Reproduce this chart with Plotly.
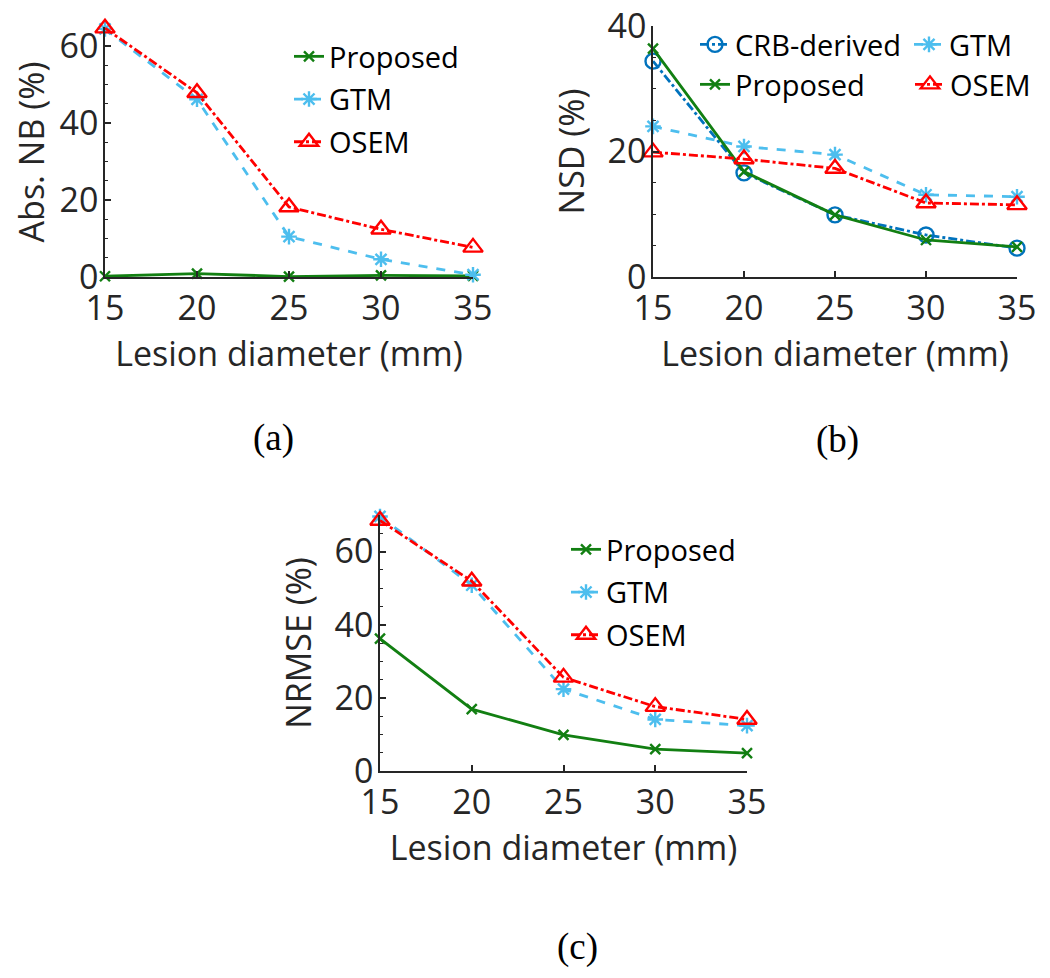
import plotly.graph_objects as go

# the page body has an 8px margin, so the figure is made 16px smaller
# and all positions below are given in window pixels
PAD = 8
W, H = 1050 - 2 * PAD, 978 - 2 * PAD

diam = [15, 20, 25, 30, 35]

# (a) absolute normalized bias (%)
nb_proposed = [0.2, 0.9, 0.1, 0.4, 0.3]
nb_gtm = [64.5, 46.2, 10.5, 4.6, 0.6]
nb_osem = [64.7, 47.9, 18.2, 12.4, 7.7]

# (b) normalized standard deviation (%)
nsd_crb = [34.4, 16.6, 9.9, 6.7, 4.6]
nsd_proposed = [36.4, 16.8, 9.9, 5.9, 4.8]
nsd_gtm = [24.0, 20.8, 19.5, 13.1, 12.8]
nsd_osem = [19.9, 18.8, 17.3, 11.8, 11.5]

# (c) normalized RMSE (%)
nrmse_proposed = [36.2, 16.9, 9.9, 6.0, 4.9]
nrmse_gtm = [69.6, 50.8, 22.4, 14.1, 12.4]
nrmse_osem = [68.5, 51.9, 25.6, 17.6, 14.1]

INK = '#262626'
FONT = 'Open Sans'

styles = {
    'CRB-derived': dict(color='#0072BD', dash='dashdot', symbol='circle-open', size=15),
    'Proposed': dict(color='#127F12', dash='solid', symbol='x-thin-open', size=10),
    'GTM': dict(color='#4DBEEE', dash='dash', symbol='asterisk-open', size=13),
    'OSEM': dict(color='#FF0000', dash='dashdot', symbol='triangle-up-open', size=17),
}


def px(x):
    return (x - PAD) / W


def py(y):
    return 1 - (y - PAD) / H


def line_trace(y, name, xa, ya, legend):
    s = styles[name]
    return go.Scatter(
        x=diam, y=y, name=name, mode='lines+markers',
        xaxis=xa, yaxis=ya, legend=legend, legendgroup=legend + name,
        cliponaxis=False,
        line=dict(color=s['color'], width=2.8, dash=s['dash']),
        marker=dict(symbol=s['symbol'], size=s['size'], color=s['color'],
                    line=dict(color=s['color'], width=2.4)))


fig = go.Figure()

fig.add_trace(line_trace(nb_proposed, 'Proposed', 'x', 'y', 'legend'))
fig.add_trace(line_trace(nb_gtm, 'GTM', 'x', 'y', 'legend'))
fig.add_trace(line_trace(nb_osem, 'OSEM', 'x', 'y', 'legend'))

fig.add_trace(line_trace(nsd_crb, 'CRB-derived', 'x2', 'y2', 'legend2'))
fig.add_trace(line_trace(nsd_gtm, 'GTM', 'x2', 'y2', 'legend3'))
fig.add_trace(line_trace(nsd_proposed, 'Proposed', 'x2', 'y2', 'legend4'))
fig.add_trace(line_trace(nsd_osem, 'OSEM', 'x2', 'y2', 'legend5'))

fig.add_trace(line_trace(nrmse_proposed, 'Proposed', 'x3', 'y3', 'legend6'))
fig.add_trace(line_trace(nrmse_gtm, 'GTM', 'x3', 'y3', 'legend6'))
fig.add_trace(line_trace(nrmse_osem, 'OSEM', 'x3', 'y3', 'legend6'))

tick_font = dict(family=FONT, size=34, color=INK)
axis_common = dict(showgrid=False, zeroline=False, showline=True, linecolor=INK,
                   linewidth=1.6, ticks='inside', ticklen=6, tickwidth=1.6,
                   tickcolor=INK, tickfont=tick_font, mirror=False, automargin=False,
                   ticklabeloverflow='allow')


def xaxis(domain, anchor):
    return dict(axis_common, domain=domain, anchor=anchor, range=[15, 35],
                tickvals=diam, ticklabelstandoff=0,
                title=dict(text='Lesion diameter (mm)', font=tick_font, standoff=12))


def yaxis(domain, anchor, rng, title):
    return dict(axis_common, domain=domain, anchor=anchor, range=rng, dtick=20,
                ticklabelstandoff=-2,
                minor=dict(dtick=5, ticks='inside', ticklen=3, tickwidth=1.2, tickcolor=INK),
                title=dict(text=title, font=tick_font, standoff=13))


legend_common = dict(bgcolor='rgba(0,0,0,0)', font=dict(family=FONT, size=29, color='black'),
                     xanchor='left', yanchor='top', tracegroupgap=2, itemwidth=30)

fig.update_layout(
    width=W, height=H,
    margin=dict(l=0, r=0, t=0, b=0),
    paper_bgcolor='white', plot_bgcolor='white',
    xaxis=xaxis([px(105), px(473)], 'y'),
    yaxis=yaxis([py(277), py(27)], 'x', [0, 65], 'Abs. NB (%)'),
    xaxis2=xaxis([px(653), px(1017)], 'y2'),
    yaxis2=yaxis([py(277), py(26)], 'x2', [0, 40], 'NSD (%)'),
    xaxis3=xaxis([px(380), px(747)], 'y3'),
    yaxis3=yaxis([py(771), py(515)], 'x3', [0, 70], 'NRMSE (%)'),
    legend=dict(legend_common, x=px(289), y=py(31)),
    legend2=dict(legend_common, x=px(695), y=py(19)),
    legend3=dict(legend_common, x=px(909), y=py(19)),
    legend4=dict(legend_common, x=px(695), y=py(59)),
    legend5=dict(legend_common, x=px(910), y=py(59)),
    legend6=dict(legend_common, x=px(566), y=py(524)),
    showlegend=True,
)

panel_font = dict(family='Liberation Serif', size=37, color='black')
for label, cx, cy in [('(a)', 273, 438), ('(b)', 837, 440), ('(c)', 577, 947)]:
    fig.add_annotation(text=label, x=px(cx), y=py(cy), xref='paper', yref='paper',
                       showarrow=False, font=panel_font, xanchor='center', yanchor='middle')

fig.write_html('out.html')
